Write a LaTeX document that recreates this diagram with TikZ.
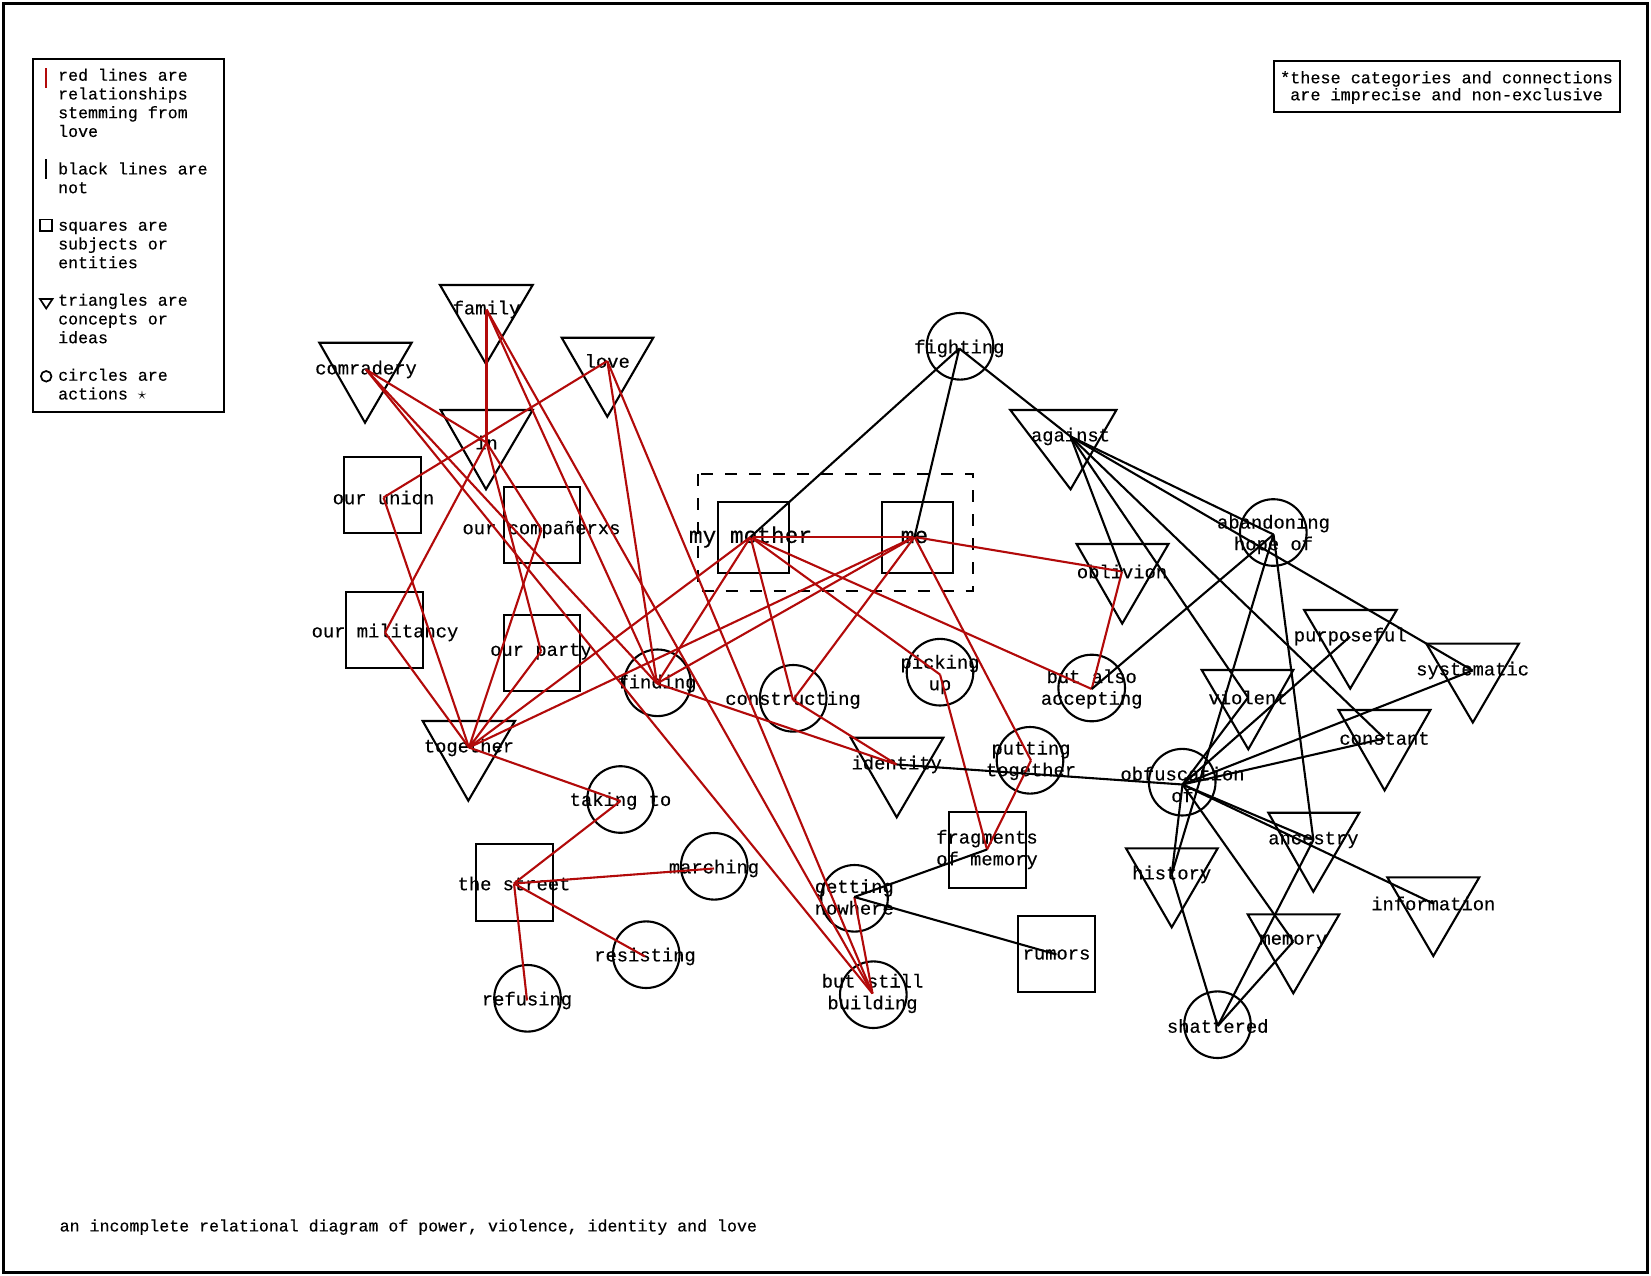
\documentclass[tikz,border=0pt]{standalone}
\usepackage{fontspec}
\newfontfamily\monof[FakeBold=0.35]{Liberation Mono}
\newcommand{\lblfont}{\monof\fontsize{18.8}{21.7}\selectfont}
\newcommand{\bigfont}{\monof\fontsize{22.8}{26}\selectfont}
\newcommand{\legfont}{\monof\fontsize{16.6}{18.75}\selectfont}
\newcommand{\notefont}{\monof\fontsize{16.8}{18}\selectfont}
\definecolor{lovered}{RGB}{178,10,10}
\tikzset{
  shp/.style={draw=black, line width=2.1pt, line join=miter},
  redl/.style={draw=lovered, line width=2.1pt},
  blkl/.style={draw=black, line width=2.1pt},
  lbl/.style={font=\lblfont, inner sep=0pt, align=center, yshift=-1.5pt},
  biglbl/.style={font=\bigfont, inner sep=0pt, yshift=-1pt},
  leg/.style={font=\legfont, inner sep=0pt, anchor=base west},
  notetxt/.style={font=\notefont, inner sep=0pt, anchor=base},
  icon/.style={draw=black, line width=1.7pt},
}
\begin{document}
\begin{tikzpicture}[x=1pt,y=-1pt]
\useasboundingbox (0,0) rectangle (1651,1276);
\fill[white] (0,0) rectangle (1651,1276);
\draw[line width=2.5pt] (3.5,3.5) rectangle (1647.5,1272.5);

% ---------- legend ----------
\node[draw, line width=2pt, minimum width=191.3pt, minimum height=352.7pt, inner sep=0pt] (legend) at (128.5,235.35) {};
\draw[lovered, line width=1.9pt] (46.3,68.3) -- (46.3,88.3);
\draw[black, line width=1.9pt] (46.3,159.3) -- (46.3,179.3);
\draw[icon] (40.2,219.5) rectangle (51.7,231);
\draw[icon] (40,299) -- (52.5,299) -- (46.2,308.5) -- cycle;
\draw[icon] (46.2,376.3) circle[radius=5.3pt];
\node[leg] (l1) at (58,80.7) {red lines are};
\node[leg] (l2) at (58,99.45) {relationships};
\node[leg] (l3) at (58,118.2) {stemming from};
\node[leg] (l4) at (58,136.95) {love};
\node[leg] (l5) at (58,174.45) {black lines are};
\node[leg] (l6) at (58,193.2) {not};
\node[leg] (l7) at (58,230.7) {squares are};
\node[leg] (l8) at (58,249.45) {subjects or};
\node[leg] (l9) at (58,268.2) {entities};
\node[leg] (l10) at (58,305.7) {triangles are};
\node[leg] (l11) at (58,324.45) {concepts or};
\node[leg] (l12) at (58,343.2) {ideas};
\node[leg] (l13) at (58,380.7) {circles are};
\node[leg] (l14) at (58,399.45) {actions $\star$};

% ---------- note ----------
\node[draw, line width=2pt, minimum width=346pt, minimum height=50.6pt, inner sep=0pt] (note) at (1447,86.3) {};
\node[notetxt] (n1) at (1446.5,83.3) {*these categories and connections};
\node[notetxt] (n2) at (1446.5,100.3) {are imprecise and non-exclusive};

% ---------- footer ----------
\node[leg] (footer) at (59.5,1231.4) {an incomplete relational diagram of power, violence, identity and love};

% ---------- shapes: triangles ----------
\draw[shp] (440,285) -- (532.7,285) -- (486,364) -- cycle; % family
\draw[shp] (319.3,342.7) -- (411.7,342.7) -- (365,422.7) -- cycle; % comradery
\draw[shp] (561.7,337.7) -- (653.3,337.7) -- (607.3,416.7) -- cycle; % love
\draw[shp] (440.7,410) -- (532.7,410) -- (486,489.3) -- cycle; % in
\draw[shp] (422.7,721) -- (515,721) -- (468.3,800.7) -- cycle; % together
\draw[shp] (850.7,737.7) -- (943.3,737.7) -- (896.7,817.3) -- cycle; % identity
\draw[shp] (1010.3,410) -- (1116.4,410) -- (1070.6,489.3) -- cycle; % against
\draw[shp] (1076.6,544) -- (1168.5,544) -- (1122.2,623.6) -- cycle; % oblivion
\draw[shp] (1304.1,610) -- (1396.7,610) -- (1350.2,688.6) -- cycle; % purposeful
\draw[shp] (1426.3,643.6) -- (1518.9,643.6) -- (1472.8,722.5) -- cycle; % systematic
\draw[shp] (1201.7,670) -- (1293.3,670) -- (1248.3,749.3) -- cycle; % violent
\draw[shp] (1338.5,710) -- (1430.4,710) -- (1384.6,790.4) -- cycle; % constant
\draw[shp] (1268.3,812.7) -- (1359.3,812.7) -- (1313.3,891.7) -- cycle; % ancestry
\draw[shp] (1126,848.3) -- (1217.7,848.3) -- (1171.7,927.3) -- cycle; % history
\draw[shp] (1387.3,877.3) -- (1479.3,877.3) -- (1433.3,956) -- cycle; % information
\draw[shp] (1247.7,914.3) -- (1339.3,914.3) -- (1293.3,993.3) -- cycle; % memory

% ---------- shapes: squares ----------
\draw[shp] (344.3,457.3) rectangle (421,533.3); % our union
\draw[shp] (503.7,487.3) rectangle (580,563.3); % our companerxs
\draw[shp] (346.3,591.7) rectangle (423,667.7); % our militancy
\draw[shp] (503.7,615) rectangle (580,691); % our party
\draw[shp] (717.7,501.7) rectangle (789.3,572.7); % my mother
\draw[shp] (881.7,501.7) rectangle (952.7,572.7); % me
\draw[shp] (475.7,844) rectangle (552.7,920.7); % the street
\draw[shp] (949,811.7) rectangle (1025.7,887.7); % fragments
\draw[shp] (1018,916) rectangle (1094.7,992); % rumors
\draw[black, line width=2pt, dash pattern=on 12pt off 12pt] (698.3,474) rectangle (972.7,590.7);

% ---------- shapes: circles ----------
\foreach \cx/\cy in {960/346.3, 657.5/682.8, 620.5/799.5, 714.2/866.3, 646.2/954.7,
  527.5/998.3, 793.2/698.3, 940/672.2, 1030/760.3, 854.5/898.3, 873.3/994.7,
  1091.7/688, 1273.3/532.5, 1182.2/782.2, 1217.5/1024.7}
  \draw[shp] (\cx,\cy) circle[radius=33.3pt];

% ---------- labels / nodes ----------
\node[lbl] (family) at (486.5,308) {family};
\node[lbl] (comradery) at (366,368) {comradery};
\node[lbl] (love) at (607.3,359.5) {love};
\node[lbl] (in) at (486.5,441) {in};
\node[lbl] (union) at (383.5,496) {our union};
\node[lbl] (companerxs) at (541.5,528) {our compañerxs};
\node[lbl] (militancy) at (385,631) {our militancy};
\node[lbl] (party) at (541,650) {our party};
\node[lbl] (together) at (469,746) {together};
\node[lbl] (finding) at (657,682) {finding};
\node[lbl] (takingto) at (620.5,799.5) {taking to};
\node[lbl] (street) at (514,882) {the street};
\node[lbl] (marching) at (714,867) {marching};
\node[lbl] (resisting) at (645,955) {resisting};
\node[lbl] (refusing) at (527,999) {refusing};
\node[biglbl] (mother) at (750.5,536) {my mother};
\node[biglbl] (me) at (914.5,536) {me};
\node[lbl] (fighting) at (959.3,347) {fighting};
\node[lbl] (constructing) at (793,698.5) {constructing};
\node[lbl] (pickingup) at (940,673) {picking\\up};
\node[lbl] (identity) at (896.7,763) {identity};
\node[lbl] (putting) at (1031,759) {putting\\together};
\node[lbl] (fragments) at (987,848) {fragments\\of memory};
\node[lbl] (nowhere) at (854.3,895.5) {getting\\nowhere};
\node[lbl] (bsb) at (872.5,992) {but still\\building};
\node[lbl] (rumors) at (1056.5,953) {rumors};
\node[lbl] (against) at (1070.5,435) {against};
\node[lbl] (oblivion) at (1122,570) {oblivion};
\node[lbl] (baa) at (1091.7,687.5) {but also\\accepting};
\node[lbl] (abandoning) at (1273.5,533) {abandoning\\hope of};
\node[lbl] (purposeful) at (1350.2,635) {purposeful};
\node[lbl] (systematic) at (1472.6,669) {systematic};
\node[lbl] (violent) at (1248,696) {violent};
\node[lbl] (constant) at (1384.5,737) {constant};
\node[lbl] (obfuscation) at (1182.5,783) {obfuscation\\of};
\node[lbl] (ancestry) at (1313.4,838.5) {ancestry};
\node[lbl] (history) at (1171.7,873) {history};
\node[lbl] (information) at (1433.3,902) {information};
\node[lbl] (memory) at (1293.3,940) {memory};
\node[lbl] (shattered) at (1217.7,1024.5) {shattered};

% ---------- red connectors ----------
\foreach \a/\b in {family/in, family/finding, family/bsb,
  comradery/in, comradery/finding, comradery/bsb,
  love/union, love/finding, love/bsb,
  in/militancy, in/companerxs, in/party,
  union/together, militancy/together, companerxs/together, party/together,
  together/mother, together/me, together/takingto,
  takingto/street, street/marching, street/resisting, street/refusing,
  finding/mother, finding/me, finding/identity,
  mother/me, mother/constructing, me/constructing, constructing/identity,
  mother/pickingup, pickingup/fragments, me/putting, putting/fragments,
  mother/baa, me/oblivion, oblivion/baa, nowhere/bsb}
  \draw[redl] (\a.center) -- (\b.center);

% ---------- black connectors ----------
\foreach \a/\b in {fighting/mother, fighting/me, fighting/against,
  against/oblivion, against/violent, against/constant, against/systematic, against/abandoning,
  baa/abandoning, history/abandoning, abandoning/ancestry,
  identity/obfuscation, obfuscation/violent, obfuscation/purposeful, obfuscation/systematic,
  obfuscation/constant, obfuscation/ancestry, obfuscation/information, obfuscation/memory,
  obfuscation/history, history/shattered, ancestry/shattered, memory/shattered,
  nowhere/fragments, nowhere/rumors}
  \draw[blkl] (\a.center) -- (\b.center);
\end{tikzpicture}
\end{document}
